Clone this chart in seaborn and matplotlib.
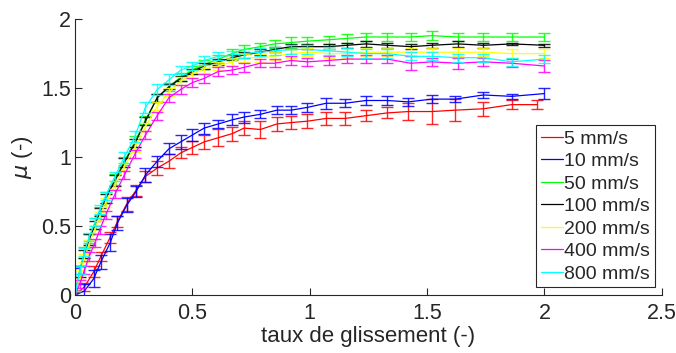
import numpy as np
import pandas as pd
import matplotlib
matplotlib.use("Agg")
import matplotlib.pyplot as plt
import seaborn as sns

# sliding ratio sample points
x_fast = [0, 0.02, 0.04, 0.06, 0.085, 0.105, 0.13, 0.17, 0.21, 0.255, 0.30, 0.35, 0.40,
          0.45, 0.50, 0.55, 0.61, 0.67, 0.72, 0.79, 0.85, 0.92, 0.99, 1.08, 1.16, 1.24,
          1.33, 1.43, 1.52, 1.63, 1.74, 1.86, 2.0]
x_blue = [0, 0.04, 0.08, 0.11, 0.15, 0.18, 0.22, 0.26, 0.30, 0.35, 0.40, 0.45, 0.50, 0.55,
          0.61, 0.67, 0.72, 0.79, 0.86, 0.92, 0.99, 1.07, 1.15, 1.24, 1.33, 1.42, 1.52,
          1.62, 1.74, 1.86, 2.0]
x_red = [0, 0.04, 0.08, 0.11, 0.15, 0.18, 0.22, 0.26, 0.30, 0.35, 0.40, 0.45, 0.50, 0.55,
         0.61, 0.67, 0.72, 0.79, 0.86, 0.92, 0.99, 1.07, 1.15, 1.24, 1.33, 1.42, 1.52,
         1.62, 1.74, 1.86, 1.97]

mu_5 = [0.0, 0.06, 0.17, 0.28, 0.42, 0.53, 0.66, 0.76, 0.86, 0.92, 0.97, 1.03, 1.07, 1.11,
        1.14, 1.17, 1.21, 1.20, 1.24, 1.25, 1.26, 1.28, 1.28, 1.30, 1.32, 1.33, 1.33, 1.34,
        1.35, 1.38, 1.38]
err_5 = [0.03, 0.03, 0.04, 0.03, 0.04, 0.04, 0.05, 0.04, 0.04, 0.05, 0.05, 0.04, 0.05, 0.05,
         0.06, 0.05, 0.05, 0.06, 0.05, 0.05, 0.05, 0.05, 0.05, 0.04, 0.04, 0.06, 0.09, 0.08,
         0.05, 0.03, 0.03]
mu_10 = [0.0, 0.03, 0.12, 0.24, 0.38, 0.52, 0.65, 0.75, 0.87, 0.97, 1.06, 1.11, 1.16, 1.21,
         1.24, 1.27, 1.29, 1.31, 1.34, 1.34, 1.36, 1.39, 1.39, 1.41, 1.41, 1.40, 1.42, 1.42,
         1.45, 1.44, 1.46]
err_10 = [0.2, 0.05, 0.06, 0.05, 0.06, 0.05, 0.05, 0.04, 0.05, 0.04, 0.04, 0.05, 0.04, 0.04,
          0.03, 0.04, 0.04, 0.03, 0.03, 0.03, 0.03, 0.04, 0.03, 0.03, 0.03, 0.03, 0.03, 0.02,
          0.02, 0.02, 0.04]
mu_50 = [0.0, 0.18, 0.31, 0.41, 0.52, 0.61, 0.71, 0.84, 0.97, 1.11, 1.27, 1.43, 1.51, 1.58,
         1.63, 1.67, 1.71, 1.75, 1.78, 1.80, 1.82, 1.83, 1.84, 1.85, 1.86, 1.87, 1.87, 1.87,
         1.88, 1.87, 1.87, 1.87, 1.87]
err_50 = [0.03, 0.03, 0.04, 0.03, 0.04, 0.03, 0.04, 0.04, 0.03, 0.04, 0.03, 0.03, 0.03, 0.03,
          0.03, 0.03, 0.03, 0.03, 0.03, 0.03, 0.03, 0.04, 0.03, 0.03, 0.03, 0.03, 0.03, 0.03,
          0.03, 0.03, 0.03, 0.03, 0.03]
mu_100 = [0.0, 0.17, 0.30, 0.40, 0.51, 0.60, 0.70, 0.83, 0.96, 1.10, 1.26, 1.43, 1.51, 1.57,
          1.62, 1.66, 1.69, 1.72, 1.74, 1.76, 1.78, 1.80, 1.80, 1.80, 1.81, 1.82, 1.81, 1.80,
          1.81, 1.82, 1.81, 1.82, 1.81]
err_100 = [0.03, 0.04, 0.03, 0.04, 0.03, 0.03, 0.03, 0.04, 0.03, 0.03, 0.03, 0.03, 0.02, 0.02,
           0.02, 0.02, 0.02, 0.02, 0.02, 0.02, 0.02, 0.02, 0.02, 0.02, 0.02, 0.02, 0.02, 0.02,
           0.02, 0.02, 0.02, 0.01, 0.01]
mu_200 = [0.0, 0.15, 0.27, 0.37, 0.48, 0.57, 0.67, 0.80, 0.93, 1.07, 1.22, 1.37, 1.47, 1.55,
          1.60, 1.64, 1.66, 1.69, 1.72, 1.72, 1.73, 1.75, 1.76, 1.75, 1.75, 1.76, 1.76, 1.76,
          1.76, 1.76, 1.76, 1.75, 1.75]
err_200 = [0.03, 0.03, 0.03, 0.03, 0.03, 0.03, 0.03, 0.03, 0.03, 0.03, 0.03, 0.03, 0.03, 0.03,
           0.03, 0.03, 0.03, 0.03, 0.03, 0.03, 0.03, 0.03, 0.03, 0.03, 0.03, 0.03, 0.03, 0.03,
           0.03, 0.03, 0.03, 0.03, 0.03]
mu_400 = [0.0, 0.08, 0.18, 0.28, 0.38, 0.47, 0.58, 0.73, 0.87, 1.02, 1.16, 1.30, 1.43, 1.49,
          1.54, 1.57, 1.62, 1.63, 1.65, 1.68, 1.68, 1.70, 1.69, 1.70, 1.71, 1.71, 1.71, 1.68,
          1.69, 1.68, 1.69, 1.68, 1.66]
err_400 = [0.03, 0.03, 0.03, 0.03, 0.03, 0.03, 0.03, 0.03, 0.03, 0.03, 0.03, 0.03, 0.03, 0.03,
           0.03, 0.03, 0.03, 0.03, 0.03, 0.03, 0.03, 0.03, 0.03, 0.03, 0.03, 0.03, 0.03, 0.05,
           0.03, 0.04, 0.03, 0.03, 0.04]
mu_800 = [0.0, 0.18, 0.31, 0.42, 0.53, 0.62, 0.72, 0.86, 1.00, 1.15, 1.36, 1.49, 1.56, 1.63,
          1.66, 1.70, 1.73, 1.74, 1.75, 1.76, 1.77, 1.78, 1.78, 1.77, 1.76, 1.75, 1.75, 1.73,
          1.73, 1.72, 1.72, 1.69, 1.71]
err_800 = [0.03, 0.03, 0.03, 0.03, 0.03, 0.03, 0.03, 0.03, 0.04, 0.04, 0.04, 0.04, 0.04, 0.03,
           0.03, 0.03, 0.03, 0.03, 0.03, 0.03, 0.03, 0.03, 0.03, 0.03, 0.03, 0.03, 0.03, 0.03,
           0.03, 0.03, 0.03, 0.03, 0.03]

labels = ["5 mm/s", "10 mm/s", "50 mm/s", "100 mm/s", "200 mm/s", "400 mm/s", "800 mm/s"]
colors = ["#ff0000", "#0000ff", "#00ff00", "#000000", "#ffff00", "#ff00ff", "#00ffff"]
xs = [x_red, x_blue, x_fast, x_fast, x_fast, x_fast, x_fast]
mus = [mu_5, mu_10, mu_50, mu_100, mu_200, mu_400, mu_800]
errs = [err_5, err_10, err_50, err_100, err_200, err_400, err_800]

frames = []
for lab, x, m, e in zip(labels, xs, mus, errs):
    frames.append(pd.DataFrame({"slip": x, "mu": m, "err": e, "speed": lab}))
df = pd.concat(frames, ignore_index=True)

sns.set_style("ticks")
plt.rcParams["font.family"] = ["Liberation Sans", "DejaVu Sans"]

fig = plt.figure(figsize=(6.76, 3.53), dpi=100)
ax = fig.add_axes([0.111, 0.164, 0.868, 0.782])

for lab, col in zip(labels, colors):
    d = df[df["speed"] == lab]
    ax.errorbar(d["slip"], d["mu"], yerr=d["err"], fmt="none", ecolor=col,
                elinewidth=1.0, capsize=4, capthick=1.0, alpha=0.85)
    sns.lineplot(data=d, x="slip", y="mu", color=col, lw=0.9, sort=False,
                 estimator=None, ax=ax, label=lab)

ax.set_xlim(0, 2.5)
ax.set_ylim(0, 2)
ax.set_xticks([0, 0.5, 1, 1.5, 2, 2.5])
ax.set_xticklabels(["0", "0.5", "1", "1.5", "2", "2.5"])
ax.set_yticks([0, 0.5, 1, 1.5, 2])
ax.set_yticklabels(["0", "0.5", "1", "1.5", "2"])
ax.tick_params(direction="in", length=5, width=0.8, labelsize=15.5, colors="#262626")
ax.tick_params(axis="x", pad=6)
ax.tick_params(axis="y", pad=3)
for s in ["top", "right"]:
    ax.spines[s].set_visible(False)
for s in ["left", "bottom"]:
    ax.spines[s].set_color("#262626")
    ax.spines[s].set_linewidth(0.8)

ax.set_xlabel("taux de glissement (-)", fontsize=16, color="#262626", labelpad=1)
ax.set_ylabel(r"$\mu$ (-)", fontsize=16, color="#262626", labelpad=4)

leg = ax.legend(loc="lower right", bbox_to_anchor=(0.988, 0.028), fontsize=14,
                frameon=True, fancybox=False, edgecolor="#262626", framealpha=1,
                handlelength=1.15, handletextpad=0.05, labelspacing=0.25,
                borderpad=0.25, borderaxespad=0)
leg.get_frame().set_linewidth(0.8)

fig.savefig("out.png", dpi=100)
